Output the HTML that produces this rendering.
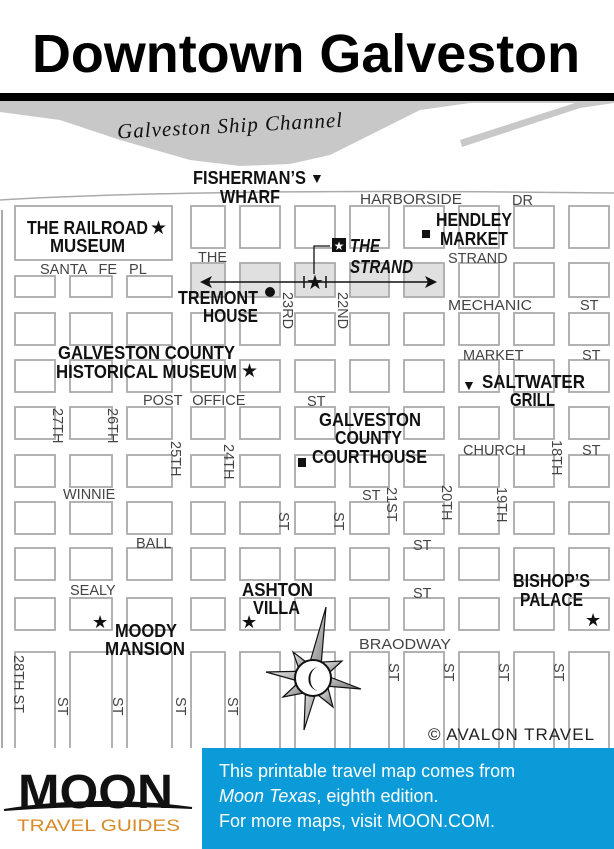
<!DOCTYPE html>
<html><head><meta charset="utf-8"><style>
html,body{margin:0;padding:0;background:#fff;}
svg{display:block;}
.b{font-family:"Liberation Sans",sans-serif;font-weight:bold;font-size:18px;fill:#111;}
.s{font-family:"Liberation Sans",sans-serif;font-size:14.5px;fill:#444;}
</style></head><body>
<svg width="614" height="849" viewBox="0 0 614 849" xmlns="http://www.w3.org/2000/svg">
<defs>
<g id="r"><rect x="15" y="0" width="40" height="32"/><rect x="70" y="0" width="42" height="32"/><rect x="127" y="0" width="45" height="32"/><rect x="191" y="0" width="34" height="32"/><rect x="240" y="0" width="40" height="32"/><rect x="295" y="0" width="40" height="32"/><rect x="350" y="0" width="39" height="32"/><rect x="404" y="0" width="40" height="32"/><rect x="459" y="0" width="40" height="32"/><rect x="514" y="0" width="40" height="32"/><rect x="569" y="0" width="40" height="32"/></g>
<linearGradient id="g" x1="0" y1="0" x2="1" y2="1"><stop offset="0" stop-color="#eee"/><stop offset="1" stop-color="#777"/></linearGradient>
</defs>
<rect width="614" height="849" fill="#fff"/>
<text x="32" y="72" font-family="Liberation Sans, sans-serif" font-weight="bold" font-size="54" textLength="548" lengthAdjust="spacingAndGlyphs" fill="#000">Downtown Galveston</text>
<path d="M0,100 L614,100 L614,103 L470,103 L420,110 L360,140 L330,155 L290,164 L240,166 L190,160 L120,140 L60,120 L0,112 Z" fill="#c8c8c8"/>
<path d="M460,140 L575,103 L614,100 L614,103 L580,108 L462,147 Z" fill="#c8c8c8"/>
<rect x="0" y="93" width="614" height="8" fill="#000"/>
<text x="117" y="132" transform="rotate(-3 240 125)" font-family="Liberation Serif, serif" font-style="italic" font-size="21" fill="#111" letter-spacing="1">Galveston  Ship  Channel</text>
<path d="M0,200 Q200,188 614,193" fill="none" stroke="#aaa" stroke-width="1.5"/>
<line x1="2" y1="210" x2="2" y2="760" stroke="#aaa" stroke-width="2"/>
<g fill="#fff" stroke="#aaa" stroke-width="1.8">
<rect x="15" y="206" width="157" height="54"/>
<rect x="15" y="276" width="40" height="21"/><rect x="70" y="276" width="42" height="21"/><rect x="127" y="276" width="45" height="21"/>
</g>
<g fill="#e0e0e0" stroke="#aaa" stroke-width="1.8">
<rect x="191" y="263" width="34" height="34"/><rect x="240" y="263" width="40" height="34"/><rect x="295" y="263" width="40" height="34"/><rect x="350" y="263" width="39" height="34"/><rect x="404" y="263" width="40" height="34"/>
</g>
<g fill="#fff" stroke="#aaa" stroke-width="1.8">
<rect x="191" y="206" width="34" height="42"/><rect x="240" y="206" width="40" height="42"/><rect x="295" y="206" width="40" height="42"/><rect x="350" y="206" width="39" height="42"/><rect x="404" y="206" width="40" height="42"/><rect x="459" y="206" width="40" height="42"/><rect x="514" y="206" width="40" height="42"/><rect x="569" y="206" width="40" height="42"/>
<rect x="459" y="263" width="40" height="34"/><rect x="514" y="263" width="40" height="34"/><rect x="569" y="263" width="40" height="34"/>
<use href="#r" y="313"/><use href="#r" y="360"/><use href="#r" y="407"/><use href="#r" y="455"/><use href="#r" y="502"/><use href="#r" y="548"/><use href="#r" y="598"/>
<rect x="15" y="652" width="40" height="110"/><rect x="70" y="652" width="42" height="110"/><rect x="127" y="652" width="45" height="110"/><rect x="191" y="652" width="34" height="110"/><rect x="240" y="652" width="40" height="110"/><rect x="295" y="652" width="40" height="110"/><rect x="350" y="652" width="39" height="110"/><rect x="404" y="652" width="40" height="110"/><rect x="459" y="652" width="40" height="110"/><rect x="514" y="652" width="40" height="110"/><rect x="569" y="652" width="40" height="110"/>
</g>
<line x1="205" y1="282" x2="430" y2="282" stroke="#111" stroke-width="1.5"/>
<path d="M200,282 L212,276 L209,282 L212,288 Z" fill="#111"/>
<path d="M437,282 L425,276 L428,282 L425,288 Z" fill="#111"/>
<line x1="304" y1="276" x2="304" y2="288" stroke="#111" stroke-width="1.5"/>
<line x1="326" y1="276" x2="326" y2="288" stroke="#111" stroke-width="1.5"/>
<text x="315" y="289" font-size="20" text-anchor="middle" fill="#111">★</text>
<polyline points="314,274 314,246 330,246" fill="none" stroke="#111" stroke-width="1.3"/>
<rect x="332" y="238" width="14" height="14" fill="#111"/>
<text x="339" y="250" font-size="12" text-anchor="middle" fill="#fff">★</text>
<text class="b" x="350" y="252" font-style="italic" textLength="30" lengthAdjust="spacingAndGlyphs">THE</text>
<text class="b" x="350" y="273" font-style="italic" textLength="63" lengthAdjust="spacingAndGlyphs">STRAND</text>
<text class="b" x="193" y="184" textLength="113" lengthAdjust="spacingAndGlyphs">FISHERMAN’S</text><text x="310" y="183" font-size="14" fill="#111">▼</text>
<text class="b" x="220" y="203" textLength="60" lengthAdjust="spacingAndGlyphs">WHARF</text>
<text class="s" x="360" y="204" textLength="102" lengthAdjust="spacingAndGlyphs">HARBORSIDE</text><text class="s" x="512" y="205">DR</text>
<text class="b" x="27" y="234" textLength="121" lengthAdjust="spacingAndGlyphs">THE RAILROAD</text><text x="150" y="234" font-size="19" fill="#111">★</text>
<text class="b" x="50" y="252" textLength="75" lengthAdjust="spacingAndGlyphs">MUSEUM</text>
<text class="b" x="436" y="226" textLength="76" lengthAdjust="spacingAndGlyphs">HENDLEY</text><text class="b" x="440" y="245" textLength="68" lengthAdjust="spacingAndGlyphs">MARKET</text>
<rect x="422" y="230" width="8" height="8" fill="#111"/>
<text class="s" x="198" y="262">THE</text><text class="s" x="448" y="263">STRAND</text>
<text class="s" x="40" y="274" word-spacing="8">SANTA FE PL</text>
<text class="b" x="178" y="304" textLength="80" lengthAdjust="spacingAndGlyphs">TREMONT</text><circle cx="270" cy="292" r="5" fill="#111"/>
<text class="b" x="203" y="322" textLength="55" lengthAdjust="spacingAndGlyphs">HOUSE</text>
<text class="s" transform="translate(283,292) rotate(90)">23RD</text>
<text class="s" transform="translate(338,292) rotate(90)">22ND</text>
<text class="s" x="448" y="310" textLength="84" lengthAdjust="spacingAndGlyphs">MECHANIC</text><text class="s" x="580" y="310">ST</text>
<text class="b" x="58" y="359" textLength="177" lengthAdjust="spacingAndGlyphs">GALVESTON COUNTY</text>
<text class="b" x="56" y="378" textLength="181" lengthAdjust="spacingAndGlyphs">HISTORICAL MUSEUM</text><text x="241" y="377" font-size="19" fill="#111">★</text>
<text class="s" x="463" y="360">MARKET</text><text class="s" x="582" y="360">ST</text>
<text class="b" x="482" y="388" textLength="103" lengthAdjust="spacingAndGlyphs">SALTWATER</text><text class="b" x="510" y="406" textLength="45" lengthAdjust="spacingAndGlyphs">GRILL</text>
<text x="462" y="390" font-size="14" fill="#111">▼</text>
<text class="s" x="143" y="405" word-spacing="6">POST OFFICE</text><text class="s" x="307" y="406">ST</text>
<text class="b" x="319" y="426" textLength="102" lengthAdjust="spacingAndGlyphs">GALVESTON</text><text class="b" x="335" y="444" textLength="67" lengthAdjust="spacingAndGlyphs">COUNTY</text><text class="b" x="312" y="463" textLength="115" lengthAdjust="spacingAndGlyphs">COURTHOUSE</text>
<rect x="298" y="458" width="8" height="9" fill="#111"/>
<text class="s" transform="translate(53,408) rotate(90)">27TH</text>
<text class="s" transform="translate(108,408) rotate(90)">26TH</text>
<text class="s" transform="translate(171,441) rotate(90)">25TH</text>
<text class="s" transform="translate(224,444) rotate(90)">24TH</text>
<text class="s" x="463" y="455">CHURCH</text><text class="s" x="582" y="455">ST</text>
<text class="s" transform="translate(552,440) rotate(90)">18TH</text>
<text class="s" x="63" y="499">WINNIE</text><text class="s" x="362" y="500">ST</text>
<text class="s" transform="translate(387,487) rotate(90)">21ST</text>
<text class="s" transform="translate(442,485) rotate(90)">20TH</text>
<text class="s" transform="translate(497,487) rotate(90)">19TH</text>
<text class="s" transform="translate(279,512) rotate(90)">ST</text>
<text class="s" transform="translate(334,512) rotate(90)">ST</text>
<text class="s" x="136" y="548">BALL</text><text class="s" x="413" y="550">ST</text>
<text class="s" x="70" y="595">SEALY</text><text class="s" x="413" y="598">ST</text>
<text class="b" x="242" y="596" textLength="71" lengthAdjust="spacingAndGlyphs">ASHTON</text><text class="b" x="253" y="614" textLength="47" lengthAdjust="spacingAndGlyphs">VILLA</text>
<text x="241" y="628" font-size="18" fill="#111">★</text>
<text class="b" x="513" y="587" textLength="77" lengthAdjust="spacingAndGlyphs">BISHOP’S</text><text class="b" x="520" y="606" textLength="63" lengthAdjust="spacingAndGlyphs">PALACE</text>
<text x="585" y="626" font-size="18" fill="#111">★</text>
<text x="92" y="628" font-size="18" fill="#111">★</text>
<text class="b" x="115" y="637" textLength="62" lengthAdjust="spacingAndGlyphs">MOODY</text><text class="b" x="105" y="655" textLength="80" lengthAdjust="spacingAndGlyphs">MANSION</text>
<text class="s" x="359" y="649" textLength="92" lengthAdjust="spacingAndGlyphs">BRAODWAY</text>
<text class="s" transform="translate(14,655) rotate(90)">28TH ST</text>
<text class="s" transform="translate(58,697) rotate(90)">ST</text>
<text class="s" transform="translate(113,697) rotate(90)">ST</text>
<text class="s" transform="translate(176,697) rotate(90)">ST</text>
<text class="s" transform="translate(228,697) rotate(90)">ST</text>
<text class="s" transform="translate(389,663) rotate(90)">ST</text>
<text class="s" transform="translate(444,663) rotate(90)">ST</text>
<text class="s" transform="translate(499,663) rotate(90)">ST</text>
<text class="s" transform="translate(554,663) rotate(90)">ST</text>
<g fill="url(#g)" stroke="#111" stroke-width="1.2">
<polygon points="293,652 310,665 300,672"/>
<polygon points="342,661 330,672 322,662"/>
<polygon points="283,697 298,683 304,693"/>
<polygon points="333,707 318,695 328,688"/>
<polygon points="326,607 320,678 306,676"/>
<polygon points="304,730 306,678 320,680"/>
<polygon points="266,672 313,671 312,685"/>
<polygon points="361,689 313,685 314,671"/>
</g>
<circle cx="313" cy="678" r="18" fill="#fff" stroke="#111" stroke-width="2"/>
<path d="M318,667 A11,12 0 1,0 321,691 A9,12 0 0,1 318,667 Z" fill="#111"/>
<text x="428" y="740" font-family="Liberation Sans, sans-serif" font-size="17" fill="#222" letter-spacing="1">© AVALON TRAVEL</text>
<rect x="0" y="748" width="202" height="101" fill="#fff"/>
<rect x="202" y="748" width="412" height="101" fill="#0b9bd9"/>
<text x="18" y="808" font-family="Liberation Sans, sans-serif" font-weight="bold" font-size="48" textLength="155" lengthAdjust="spacingAndGlyphs" fill="#111">MOON</text>
<path d="M4,810 Q95,795 192,808 Q95,803 4,810 Z" fill="#111" stroke="#111" stroke-width="2"/>
<text x="17" y="831" font-family="Liberation Sans, sans-serif" font-size="17" textLength="163" lengthAdjust="spacingAndGlyphs" fill="#d98a26">TRAVEL GUIDES</text>
<g font-family="Liberation Sans, sans-serif" font-size="18" fill="#fff">
<text x="219" y="777">This printable travel map comes from</text>
<text x="219" y="802"><tspan font-style="italic">Moon Texas</tspan>, eighth edition.</text>
<text x="219" y="827">For more maps, visit MOON.COM.</text>
</g>
</svg>
</body></html>
